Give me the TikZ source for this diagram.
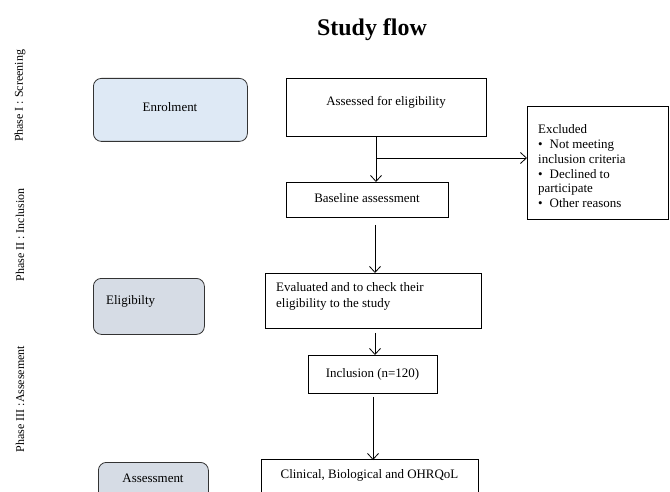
\documentclass[tikz,border=0pt]{standalone}
\usepackage{fontspec}
\setmainfont{Liberation Serif}
\usetikzlibrary{arrows.meta}
\definecolor{enrolfill}{HTML}{DEE9F5}
\definecolor{grayfill}{HTML}{D6DCE5}
\definecolor{rborder}{HTML}{333333}
\begin{document}
\begin{tikzpicture}[x=1bp,y=-1bp,
  sbox/.style={draw=black, line width=0.8bp, inner sep=0pt, anchor=north west},
  rbox/.style={draw=rborder, line width=0.8bp, rounded corners=8bp, inner sep=0pt, anchor=north west},
  txt/.style={inner sep=0pt, font=\fontsize{13}{15}\selectfont},
  phase/.style={inner sep=0pt, rotate=90, font=\fontsize{12}{14}\selectfont},
  arr/.style={line width=0.8bp, -{Straight Barb[length=6bp,width=11bp]}},
  conn/.style={line width=0.8bp}]
\useasboundingbox (0,0) rectangle (670,492);
\clip (0,0) rectangle (670,492);

% title
\node[inner sep=0pt, font=\fontsize{24}{28}\selectfont\bfseries] (title) at (372,30) {Study flow};

% phase labels
\node[phase] (p1) at (20,96) {Phase I : Screening};
\node[phase] (p2) at (20,235) {Phase II : Inclusion};
\node[phase] (p3) at (20,399) {Phase III :Assesement};

% left column
\node[rbox, fill=enrolfill, minimum width=154bp, minimum height=63bp] (enrol) at (93,78) {};
\node[txt] (enrolt) at (170,107) {Enrolment};
\node[rbox, fill=grayfill, minimum width=111bp, minimum height=56bp] (elig) at (93,278) {};
\node[txt, anchor=west] (eligt) at (106,301) {Eligibilty};
\node[rbox, fill=grayfill, minimum width=110bp, minimum height=42bp] (assm) at (98,462) {};
\node[txt] (assmt) at (153,478) {Assessment};

% main column
\node[sbox, minimum width=200bp, minimum height=58bp] (assess) at (286,78) {};
\node[txt] (assesst) at (386,102) {Assessed for eligibility};

\node[sbox, minimum width=141bp, minimum height=113bp] (excl) at (527,106) {};
\node[txt, anchor=north west, align=left] (exclt) at (538,124) {Excluded\\
\textbullet\hspace{7bp}Not meeting\\
inclusion criteria\\
\textbullet\hspace{7bp}Declined to\\
participate\\
\textbullet\hspace{7bp}Other reasons};

\node[sbox, minimum width=162bp, minimum height=35bp] (base) at (286,182) {};
\node[txt] (baset) at (367,198) {Baseline assessment};

\node[sbox, minimum width=216bp, minimum height=55bp] (eval) at (265,273) {};
\node[txt, anchor=north west, align=left, font=\fontsize{13}{16}\selectfont] (evalt) at (276,282) {Evaluated and to check their\\eligibility to the study};

\node[sbox, minimum width=129bp, minimum height=38bp] (incl) at (308,355) {};
\node[txt] (inclt) at (372.5,374) {Inclusion (n=120)};

\node[sbox, minimum width=217bp, minimum height=45bp] (clin) at (261,459) {};
\node[txt] (clint) at (369.5,475) {Clinical, Biological and OHRQoL};

% connectors
\coordinate (j) at (376,158);
\coordinate (c1) at (375,0);
\coordinate (c2) at (373,0);
\draw[conn] (assess.south -| j) -- (j);
\draw[arr] (j) -- (base.north -| j);
\draw[arr] (j) -- (excl.west |- j);
\draw[arr] ([yshift=-7bp]base.south -| c1) -- (eval.north -| c1);
\draw[arr] ([yshift=-4bp]eval.south -| c1) -- (incl.north -| c1);
\draw[arr] ([yshift=-3bp]incl.south -| c2) -- ([yshift=-1bp]clin.north -| c2);
\end{tikzpicture}
\end{document}
